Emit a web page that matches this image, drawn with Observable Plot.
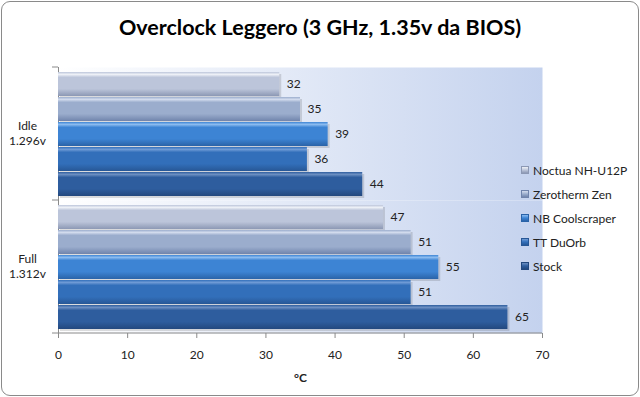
<!DOCTYPE html>
<html>
<head>
<meta charset="utf-8">
<script src="https://cdn.jsdelivr.net/npm/d3@7"></script>
<script src="https://cdn.jsdelivr.net/npm/@observablehq/plot@0.6"></script>
<style>
  html, body { margin: 0; padding: 0; background: #fff; }
  #wrap { position: relative; width: 640px; height: 397px; font-family: Lato, "Open Sans", sans-serif; }
  #border { position: absolute; left: 1px; top: 1px; width: 636px; height: 393px; border: 1px solid #8a8a8a; border-radius: 9px; pointer-events: none; }
  #title { position: absolute; left: 0; top: 14px; width: 640px; text-align: center; font-size: 21.5px; font-weight: bold; color: #000; }
  #legend { position: absolute; left: 521px; top: 158px; font-size: 12px; color: #222; }
  .item { height: 24px; display: flex; align-items: center; white-space: nowrap; }
  .sw { width: 8px; height: 8px; margin-right: 4px; box-sizing: border-box; }
  #chart { position: absolute; left: 0; top: 0; }
</style>
</head>
<body>
<div id="wrap">
  <svg width="0" height="0" style="position:absolute">
    <defs id="defs"></defs>
  </svg>
  <div id="chart"></div>
  <div id="title"></div>
  <div id="legend"></div>
  <div id="border"></div>
</div>
<script>
// ---- data ----
const titleText = "Overclock Leggero (3 GHz, 1.35v da BIOS)";
const groups = ["Idle", "Full"];
const groupLabels = ["Idle\n1.296v", "Full\n1.312v"];
const coolers = ["Noctua NH-U12P", "Zerotherm Zen", "NB Coolscraper", "TT DuOrb", "Stock"];
const idleTemps = [32, 35, 39, 36, 44];
const fullTemps = [47, 51, 55, 51, 65];
const xTicks = [0, 10, 20, 30, 40, 50, 60, 70];
const xLabel = "°C";

// ---- palette (top highlight, mid, bottom) ----
const palette = [
  ["#eef1f7", "#bcc5da", "#8c98b4"],
  ["#d3dcee", "#9badcd", "#7084ac"],
  ["#8cbcf0", "#3d84d4", "#2a63a8"],
  ["#6f9bd6", "#326fba", "#275796"],
  ["#6c8fc2", "#2e5d9e", "#23487e"]
];

const defs = d3.select("#defs");
palette.forEach((c, i) => {
  const g = defs.append("linearGradient").attr("id", "g" + i).attr("x1", 0).attr("y1", 0).attr("x2", 0).attr("y2", 1);
  g.append("stop").attr("offset", "0%").attr("stop-color", c[1]);
  g.append("stop").attr("offset", "10%").attr("stop-color", c[0]);
  g.append("stop").attr("offset", "22%").attr("stop-color", c[1]);
  g.append("stop").attr("offset", "70%").attr("stop-color", c[1]);
  g.append("stop").attr("offset", "100%").attr("stop-color", c[2]);
});
const bg = defs.append("linearGradient").attr("id", "bgGrad").attr("x1", 0).attr("y1", 0).attr("x2", 1).attr("y2", 0);
bg.append("stop").attr("offset", "0%").attr("stop-color", "#ffffff");
bg.append("stop").attr("offset", "100%").attr("stop-color", "#c4d2ee");

const rows = groups.flatMap((g, gi) =>
  coolers.map((c, ci) => ({ group: g, cooler: c, temp: (gi === 0 ? idleTemps : fullTemps)[ci] }))
);

const plot = Plot.plot({
  width: 640,
  height: 397,
  marginLeft: 58,
  marginRight: 98,
  marginTop: 66,
  marginBottom: 64,
  style: { fontFamily: "Lato, 'Open Sans', sans-serif", background: "transparent", overflow: "visible" },
  x: { domain: [0, 70], axis: null },
  y: { domain: coolers, axis: null, paddingInner: 0.04, paddingOuter: 0.18 },
  fy: { domain: groups, padding: 0, axis: null, label: null },
  marks: [
    Plot.frame({ fill: "url(#bgGrad)", stroke: null }),
    Plot.ruleX([0], { stroke: "#8a8a8a" }),
    // shadows
    Plot.barX(rows, { x: "temp", y: "cooler", fy: "group", fill: "#000", fillOpacity: 0.13, dx: 2, dy: 2 }),
    ...coolers.map((c, i) =>
      Plot.barX(rows.filter(r => r.cooler === c), { x: "temp", y: "cooler", fy: "group", fill: `url(#g${i})` })
    ),
    Plot.text(rows, { x: "temp", y: "cooler", fy: "group", text: d => String(d.temp), dx: 7, textAnchor: "start", fontSize: 12, fill: "#222" }),
    Plot.text(groups, { fy: d => d, text: (d, i) => groupLabels[i], frameAnchor: "left", dx: -31, dy: -1, textAnchor: "middle", fontSize: 12, fill: "#222", lineHeight: 1.25 }),
    Plot.axisX(xTicks, { tickSize: 5, tickPadding: 12, stroke: "#8a8a8a", fill: "#222", fontSize: 12, label: null, tickFormat: d => String(d) }),
    Plot.text([xLabel], { fy: () => "Full", frameAnchor: "bottom", dy: 48, fontSize: 12, fill: "#222", fontWeight: "bold" })
  ]
});
document.getElementById("chart").appendChild(plot);

// axis line and group-boundary ticks using the plot's scales
const xs = plot.scale("x"), fys = plot.scale("fy");
const svg = d3.select(plot);
const x0 = xs.apply(0), x1 = xs.apply(70);
const bounds = [];
groups.forEach(g => { bounds.push(fys.apply(g)); });
bounds.push(fys.apply(groups[groups.length - 1]) + fys.bandwidth);
const yb = bounds[bounds.length - 1];
svg.append("line").attr("x1", x0).attr("x2", x1).attr("y1", yb).attr("y2", yb).attr("stroke", "#8a8a8a");
bounds.forEach(b => {
  svg.append("line").attr("x1", x0 - 6).attr("x2", x0).attr("y1", b).attr("y2", b).attr("stroke", "#8a8a8a");
});

// title and legend
document.getElementById("title").textContent = titleText;
const leg = d3.select("#legend");
coolers.forEach((c, i) => {
  const it = leg.append("div").attr("class", "item");
  it.append("div").attr("class", "sw")
    .style("background", `linear-gradient(${palette[i][0]}, ${palette[i][1]} 50%, ${palette[i][2]})`)
    .style("border", `1px solid ${palette[i][2]}`);
  it.append("span").text(c);
});
</script>
</body>
</html>
